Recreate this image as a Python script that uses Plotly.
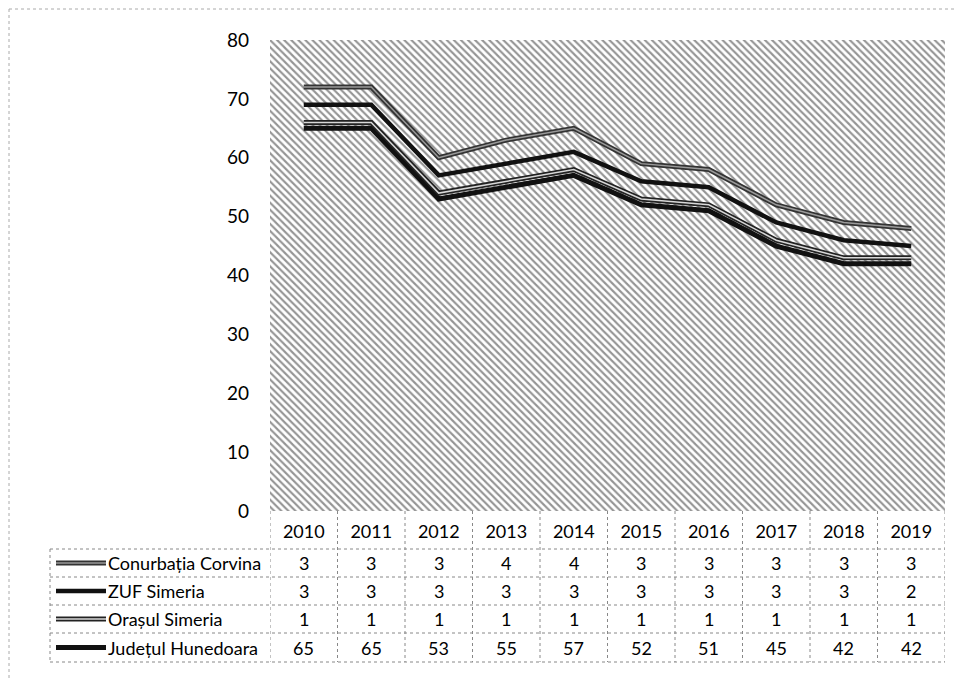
import numpy as np
import plotly.graph_objects as go

years = [2010, 2011, 2012, 2013, 2014, 2015, 2016, 2017, 2018, 2019]

# series, bottom of the stack first
hunedoara = [65, 65, 53, 55, 57, 52, 51, 45, 42, 42]
simeria_oras = [1, 1, 1, 1, 1, 1, 1, 1, 1, 1]
zuf_simeria = [3, 3, 3, 3, 3, 3, 3, 3, 3, 2]
corvina = [3, 3, 3, 4, 4, 3, 3, 3, 3, 3]

series_names = ["Județul Hunedoara", "Orașul Simeria", "ZUF Simeria", "Conurbația Corvina"]
series_values = [hunedoara, simeria_oras, zuf_simeria, corvina]

y_ticks = [0, 10, 20, 30, 40, 50, 60, 70, 80]

# the page body adds an 8px margin, so the figure is a bit smaller than the window
OFF = 8
W, H = 965 - OFF, 684 - OFF
ML, MR, MT, MB = 270 - OFF, 20, 40 - OFF, 173
PW, PH = W - ML - MR, H - MT - MB
FONT = "Lato, 'Open Sans', sans-serif"


def px_x(px):
    # page pixel -> paper x
    return (px - OFF - ML) / PW


def px_y(py):
    # page pixel -> paper y
    return (H - MB - (py - OFF)) / PH


# line styles: (outer colour, outer width, inner colour, inner width)
styles = {
    "Județul Hunedoara": ("#111111", 5, None, 0),
    "Orașul Simeria": ("#222222", 5, "#d8d8d8", 1.5),
    "ZUF Simeria": ("#111111", 4.5, None, 0),
    "Conurbația Corvina": ("#333333", 5, "#9a9a9a", 1.5),
}

stacked = np.cumsum(np.array(series_values), axis=0)

fig = go.Figure()

# hatched plot area
fig.add_trace(
    go.Scatter(
        x=[years[0] - 0.5, years[-1] + 0.5, years[-1] + 0.5, years[0] - 0.5, years[0] - 0.5],
        y=[y_ticks[0], y_ticks[0], y_ticks[-1], y_ticks[-1], y_ticks[0]],
        mode="lines",
        line=dict(width=0),
        fill="toself",
        fillcolor="white",
        fillpattern=dict(shape="\\", size=5, solidity=0.42, fgcolor="#2a2a2a", bgcolor="white"),
        hoverinfo="skip",
        showlegend=False,
    )
)

for name, ys in zip(series_names, stacked):
    outer, ow, inner, iw = styles[name]
    fig.add_trace(
        go.Scatter(x=years, y=ys, mode="lines", name=name,
                   line=dict(color=outer, width=ow), showlegend=False)
    )
    if inner:
        fig.add_trace(
            go.Scatter(x=years, y=ys, mode="lines", name=name,
                       line=dict(color=inner, width=iw), showlegend=False, hoverinfo="skip")
        )

shapes = []
annotations = []
dot = dict(color="#888888", width=1, dash="dot")

# data table under the plot
row_bounds = [549, 577, 605, 633, 662]
table_rows = list(zip(series_names, series_values))[::-1]
for i, (name, vals) in enumerate(table_rows):
    yc = (row_bounds[i] + row_bounds[i + 1]) / 2
    outer, ow, inner, iw = styles[name]
    shapes.append(dict(type="line", xref="paper", yref="paper",
                       x0=px_x(56), x1=px_x(106), y0=px_y(yc), y1=px_y(yc),
                       line=dict(color=outer, width=ow)))
    if inner:
        shapes.append(dict(type="line", xref="paper", yref="paper",
                           x0=px_x(56), x1=px_x(106), y0=px_y(yc), y1=px_y(yc),
                           line=dict(color=inner, width=iw)))
    annotations.append(dict(x=px_x(106), y=px_y(yc), xref="paper", yref="paper",
                            text=name, showarrow=False, xanchor="left", yanchor="middle",
                            font=dict(family=FONT, size=18, color="#000")))
    for yr, v in zip(years, vals):
        annotations.append(dict(x=yr, y=px_y(yc), xref="x", yref="paper",
                                text=str(v), showarrow=False, xanchor="center", yanchor="middle",
                                font=dict(family=FONT, size=18, color="#000")))

for rb in row_bounds:
    shapes.append(dict(type="line", xref="paper", yref="paper",
                       x0=px_x(50), x1=1, y0=px_y(rb), y1=px_y(rb), line=dot))
shapes.append(dict(type="line", xref="paper", yref="paper",
                   x0=px_x(50), x1=px_x(50), y0=px_y(row_bounds[0]), y1=px_y(row_bounds[-1]), line=dot))
for k in range(len(years) + 1):
    xb = years[0] - 0.5 + k
    shapes.append(dict(type="line", xref="x", yref="paper",
                       x0=xb, x1=xb, y0=0, y1=px_y(row_bounds[-1]), line=dot))

# faint outer frame of the chart (page runs under the body margin at the top)
shapes.append(dict(type="line", xref="paper", yref="paper",
                   x0=px_x(9), x1=px_x(960), y0=px_y(9), y1=px_y(9),
                   line=dict(color="#aaaaaa", width=1, dash="dot")))
shapes.append(dict(type="line", xref="paper", yref="paper",
                   x0=px_x(9), x1=px_x(9), y0=px_y(9), y1=px_y(680),
                   line=dict(color="#aaaaaa", width=1, dash="dot")))

fig.update_layout(
    width=W,
    height=H,
    margin=dict(l=ML, r=MR, t=MT, b=MB, autoexpand=False),
    plot_bgcolor="white",
    paper_bgcolor="white",
    font=dict(family=FONT, size=18, color="#000"),
    showlegend=False,
    shapes=shapes,
    annotations=annotations,
    xaxis=dict(
        range=[years[0] - 0.5, years[-1] + 0.5],
        tickvals=years,
        ticktext=[str(y) for y in years],
        showgrid=False,
        zeroline=False,
        showline=False,
        ticks="",
        automargin=False,
        ticklabelstandoff=8,
        tickfont=dict(family=FONT, size=18, color="#000"),
    ),
    yaxis=dict(
        range=[y_ticks[0], y_ticks[-1]],
        tickvals=y_ticks,
        showgrid=False,
        zeroline=False,
        showline=False,
        ticks="",
        automargin=False,
        ticklabelstandoff=20,
        tickfont=dict(family=FONT, size=19, color="#000"),
    ),
)

fig.write_html("out.html")
